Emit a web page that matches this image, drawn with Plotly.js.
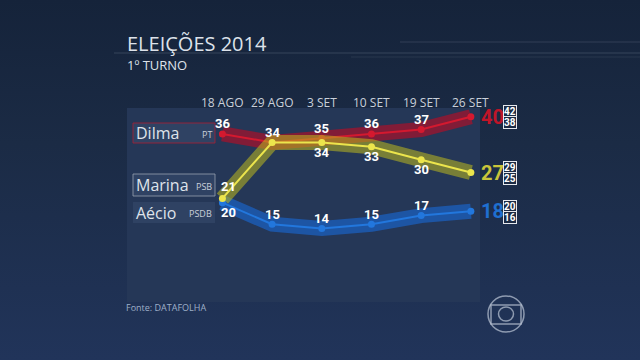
<!DOCTYPE html>
<html>
<head>
<meta charset="utf-8">
<script src="https://cdn.plot.ly/plotly-3.0.1.min.js"></script>
<style>
html,body{margin:0;padding:0;width:640px;height:360px;overflow:hidden;
background:linear-gradient(180deg,#15233a 0%,#1b2b45 40%,#21345a 100%);}
#chart{width:640px;height:360px;}
</style>
</head>
<body>
<div id="chart"></div>
<script>
// ---- data ----
const dates = ['18 AGO', '29 AGO', '3 SET', '10 SET', '19 SET', '26 SET'];
const dilma = [36, 34, 35, 36, 37, 40];
const marina = [21, 34, 34, 33, 30, 27];
const aecio = [20, 15, 14, 15, 17, 18];
const candidates = ['Dilma', 'Marina', 'Aécio'];
const parties = ['PT', 'PSB', 'PSDB'];
const marginUpper = [42, 29, 20];
const marginLower = [38, 25, 16];

// ---- layout helpers (pixel -> paper) ----
const L = 127, R = 530, T = 108, B = 302;
const PX = x => (x - L) / (R - L);
const PY = y => (B - y) / (B - T);

const xs = dates.map((d, i) => i);
const series = [dilma, marina, aecio];
const glow = ['rgba(185,12,35,0.62)', 'rgba(190,185,30,0.55)', 'rgba(25,105,215,0.6)'];
const core = ['#d4192f', '#ece54c', '#2277dd'];
const bigCol = ['#bf1529', '#c9c43a', '#1f6fd0'];

const traces = [];
[0, 2, 1].forEach(k => {
  traces.push({x: xs, y: series[k], type: 'scatter', mode: 'lines',
    line: {color: glow[k], width: 15}, hoverinfo: 'skip', showlegend: false});
  traces.push({x: xs, y: series[k], type: 'scatter', mode: 'lines+markers',
    line: {color: core[k], width: 2}, marker: {color: core[k], size: 7},
    hoverinfo: 'skip', showlegend: false});
});

const ann = [];
function A(o) { ann.push(Object.assign({showarrow: false, xanchor: 'center', yanchor: 'middle'}, o)); }
const numFont = {family: 'Roboto, "Open Sans", sans-serif', size: 13, color: '#ffffff'};
// date labels
dates.forEach((d, i) => A({x: i, xref: 'x', y: PY(102), yref: 'paper', text: d,
  font: {family: '"Open Sans", sans-serif', size: 12, color: '#c9d0da'}}));
// value labels
const shifts = [
  i => ({dy: 10, dx: 0}),
  i => (i === 0 ? {dy: 12, dx: 6} : {dy: -10, dx: 0}),
  i => (i === 0 ? {dy: -10, dx: 6} : {dy: 10, dx: 0})
];
series.forEach((s, k) => {
  s.forEach((v, i) => {
    if (i === s.length - 1) return;
    if (k === 1 && v === dilma[i]) return; // shared label
    const sh = shifts[k](i);
    A({x: i, y: v, xref: 'x', yref: 'y', text: '<b>' + v + '</b>', yshift: sh.dy, xshift: sh.dx, font: numFont});
  });
  const last = s[s.length - 1];
  A({x: PX(479), xref: 'paper', y: last, yref: 'y', xanchor: 'left', text: '<b>' + last + '</b>',
    font: {family: 'Roboto, sans-serif', size: 20, color: bigCol[k]}});
  A({x: PX(510), xref: 'paper', y: last, yref: 'y', yshift: 5, text: '<b>' + marginUpper[k] + '</b>',
    bordercolor: '#e6e9ee', borderwidth: 1, borderpad: 0, bgcolor: '#1c2b44',
    font: {family: 'Roboto, sans-serif', size: 10, color: '#ffffff'}});
  A({x: PX(510), xref: 'paper', y: last, yref: 'y', yshift: -6, text: '<b>' + marginLower[k] + '</b>',
    bordercolor: '#e6e9ee', borderwidth: 1, borderpad: 0, bgcolor: '#1c2b44',
    font: {family: 'Roboto, sans-serif', size: 10, color: '#ffffff'}});
});

// name boxes
const boxY = [[123, 143], [174, 196], [202, 223]];
const boxBorder = ['rgba(170,30,50,0.8)', 'rgba(150,160,175,0.8)', 'rgba(0,0,0,0)'];
const shapes = [];
// panel
shapes.push({type: 'rect', xref: 'paper', yref: 'paper', x0: PX(127), x1: PX(480), y0: PY(302), y1: PY(108),
  fillcolor: '#253757', line: {width: 0}, layer: 'below'});
candidates.forEach((c, k) => {
  shapes.push({type: 'rect', xref: 'paper', yref: 'paper', x0: PX(133), x1: PX(215),
    y0: PY(boxY[k][1]), y1: PY(boxY[k][0]), fillcolor: 'rgba(60,80,115,0.45)',
    line: {color: boxBorder[k], width: 1}, layer: 'below'});
  const cy = (boxY[k][0] + boxY[k][1]) / 2;
  A({x: PX(134), xref: 'paper', y: PY(cy), yref: 'paper', xanchor: 'left', text: c,
    font: {family: '"Open Sans", sans-serif', size: 16, color: '#dfe3ea'}});
  A({x: PX(214), xref: 'paper', y: PY(cy + 1), yref: 'paper', xanchor: 'right', text: parties[k],
    font: {family: '"Open Sans", sans-serif', size: 9, color: '#c9d0da'}});
});
// decorative streaks near title
[[114, 640, 53, 0.18], [400, 640, 42, 0.15], [351, 640, 57, 0.1]].forEach(l => shapes.push({
  type: 'line', xref: 'paper', yref: 'paper', x0: PX(l[0]), x1: PX(l[1]), y0: PY(l[2]), y1: PY(l[2]),
  line: {color: 'rgba(200,210,225,' + l[3] + ')', width: 1}}));
// logo
shapes.push({type: 'circle', xref: 'paper', yref: 'paper', x0: PX(488), x1: PX(524), y0: PY(332), y1: PY(296),
  line: {color: 'rgba(190,200,215,0.7)', width: 1.5}});
shapes.push({type: 'rect', xref: 'paper', yref: 'paper', x0: PX(491), x1: PX(521), y0: PY(324), y1: PY(305),
  line: {color: 'rgba(190,200,215,0.7)', width: 1.5}});
shapes.push({type: 'circle', xref: 'paper', yref: 'paper', x0: PX(498.5), x1: PX(513.5), y0: PY(321), y1: PY(307),
  line: {color: 'rgba(190,200,215,0.7)', width: 1.5}});

// titles / source
A({x: PX(125), xref: 'paper', y: PY(43), yref: 'paper', xanchor: 'left', text: 'ELEIÇÕES 2014',
  font: {family: '"Open Sans", sans-serif', size: 20, color: '#dde2ea'}});
A({x: PX(125), xref: 'paper', y: PY(65.5), yref: 'paper', xanchor: 'left', text: '1º TURNO',
  font: {family: '"Open Sans", sans-serif', size: 13, color: '#dde2ea'}});
A({x: PX(124), xref: 'paper', y: PY(307), yref: 'paper', xanchor: 'left', text: 'Fonte: DATAFOLHA',
  font: {family: '"Open Sans", sans-serif', size: 9, color: '#9fb0c8'}});

const layout = {
  width: 640, height: 360,
  margin: {l: L, r: 640 - R, t: T, b: 360 - B, pad: 0},
  paper_bgcolor: 'rgba(0,0,0,0)', plot_bgcolor: 'rgba(0,0,0,0)',
  xaxis: {range: [-1.92, 6.19], showgrid: false, zeroline: false, showticklabels: false, showline: false, fixedrange: true},
  yaxis: {range: [-3.09, 42.02], showgrid: false, zeroline: false, showticklabels: false, showline: false, fixedrange: true},
  showlegend: false, shapes: shapes, annotations: ann
};
Plotly.newPlot('chart', traces, layout, {staticPlot: true, displayModeBar: false});
</script>
</body>
</html>
